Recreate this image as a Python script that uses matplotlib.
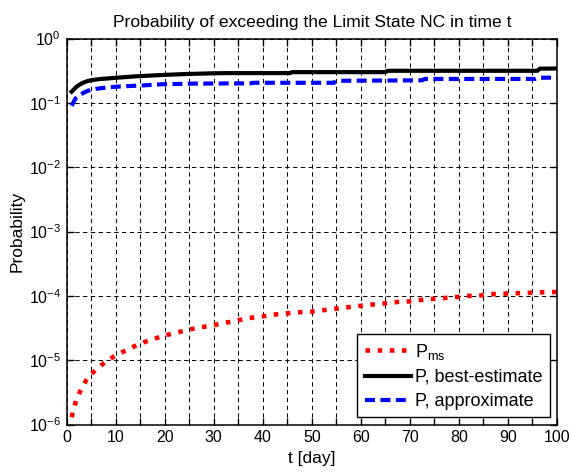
import math
import matplotlib
matplotlib.use("Agg")
import matplotlib.pyplot as plt
import matplotlib.ticker as mticker

plt.rcParams['font.family'] = ['Liberation Sans', 'DejaVu Sans']
plt.rcParams['mathtext.fontset'] = 'custom'
plt.rcParams['mathtext.rm'] = 'Liberation Sans'
plt.rcParams['mathtext.it'] = 'Liberation Sans'
plt.rcParams['axes.unicode_minus'] = False

# P_ms
t_ms = [1, 2, 3, 4, 5, 6, 8, 10, 12, 14, 16, 18, 20, 22, 24, 26, 28, 30, 32, 34,
        36, 38, 40, 42, 44, 46, 48, 50, 52, 54, 56, 58, 60, 62, 64, 66, 68, 70,
        72, 74, 76, 78, 80, 82, 84, 86, 88, 90, 92, 94, 96, 98, 100]
p_ms = [1.3e-6, 2.5e-6, 3.6e-6, 4.9e-6, 6.0e-6, 7.2e-6, 9.5e-6, 1.19e-5, 1.41e-5,
        1.67e-5, 1.93e-5, 2.17e-5, 2.42e-5, 2.63e-5, 2.88e-5, 3.1e-5, 3.3e-5,
        3.5e-5, 3.8e-5, 4.0e-5, 4.35e-5, 4.6e-5, 4.8e-5, 5.1e-5, 5.25e-5, 5.45e-5,
        5.6e-5, 5.7e-5, 5.95e-5, 6.2e-5, 6.45e-5, 6.75e-5, 7.0e-5, 7.3e-5, 7.45e-5,
        7.85e-5, 8.1e-5, 8.2e-5, 8.6e-5, 8.9e-5, 9.1e-5, 9.4e-5, 9.65e-5, 1.0e-4,
        1.0e-4, 1.06e-4, 1.07e-4, 1.09e-4, 1.1e-4, 1.11e-4, 1.13e-4, 1.14e-4, 1.15e-4]

# P, best-estimate (black)
t_best = [1, 2, 3, 4, 5, 7, 10, 14, 19, 24, 30, 33, 45.5, 46, 65, 65.5, 96, 96.5, 100]
p_best = [0.149, 0.178, 0.20, 0.215, 0.225, 0.235, 0.245, 0.258, 0.27, 0.28, 0.288,
          0.29, 0.29, 0.30, 0.30, 0.315, 0.315, 0.34, 0.342]

# P, approximate (blue)
t_appr = [1, 1.8, 2.8, 4.2, 6.2, 9, 12.4, 15.8, 19.2, 26, 37.5, 38, 54.5, 55, 72.5,
          73, 95.5, 96, 100]
p_appr = [0.090, 0.117, 0.135, 0.153, 0.166, 0.176, 0.182, 0.187, 0.194, 0.199,
          0.201, 0.205, 0.205, 0.22, 0.224, 0.235, 0.235, 0.245, 0.247]

fig = plt.figure(figsize=(5.72, 4.73), dpi=100)
ax = fig.add_axes([0.1166, 0.1025, 0.8572, 0.8161])

ax.semilogy(t_ms, p_ms, color='red', linestyle=':', linewidth=3.3,
            label='P$_{\\mathregular{ms}}$')
ax.semilogy(t_best, p_best, color='black', linestyle='-', linewidth=3,
            label='P, best-estimate')
ax.semilogy(t_appr, p_appr, color='blue', linewidth=3, linestyle='--',
            dashes=(2.4, 1.3), label='P, approximate')

ax.set_xlim(0, 100)
ax.set_ylim(1e-6, 1)

# x ticks every 10 with labels, grid also at every 5
ax.xaxis.set_major_locator(mticker.MultipleLocator(10))
ax.xaxis.set_minor_locator(mticker.MultipleLocator(5))
ax.yaxis.set_major_locator(mticker.LogLocator(base=10, numticks=10))
ax.yaxis.set_minor_locator(mticker.NullLocator())
ax.yaxis.set_major_formatter(mticker.FuncFormatter(
    lambda v, p: '10$^{\\mathregular{%d}}$' % round(math.log10(v))))

ax.tick_params(which='both', direction='in', top=True, right=True, labelsize=11.5,
               width=1, color='black')
ax.tick_params(which='major', length=5, pad=4)
ax.tick_params(which='minor', length=5)

grid_style = dict(color='black', linestyle=(0, (4.5, 3.5)), linewidth=0.7)
ax.grid(True, which='major', axis='both', **grid_style)
ax.grid(True, which='minor', axis='x', **grid_style)

for s in ax.spines.values():
    s.set_linewidth(1.1)

ax.set_title('Probability of exceeding the Limit State NC in time t', fontsize=12.6, pad=8)
ax.set_xlabel('t [day]', fontsize=12.5, labelpad=4)
ax.set_ylabel('Probability', fontsize=12.5, labelpad=3)

leg = ax.legend(loc='lower right', fontsize=13, frameon=True, fancybox=False,
                edgecolor='black', framealpha=1, handlelength=2.6,
                borderaxespad=0.4, labelspacing=0.4, handletextpad=0.2,
                borderpad=0.4)
leg.get_frame().set_linewidth(1)

fig.savefig('out.png', dpi=100)
